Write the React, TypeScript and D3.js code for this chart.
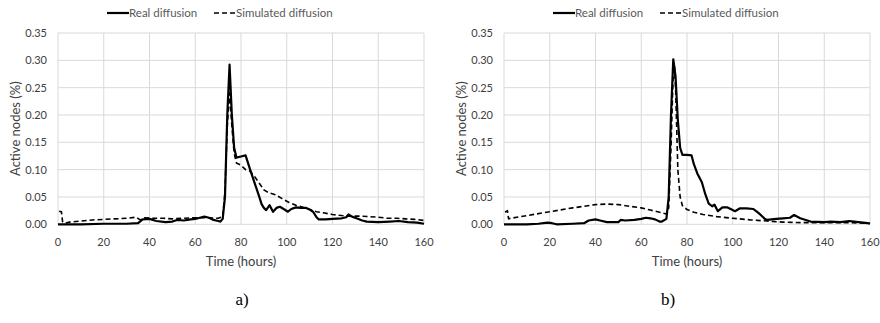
import { useEffect, useRef } from 'react';
import * as d3 from 'd3';

type Pt = [number, number];

const xTicks = [0, 20, 40, 60, 80, 100, 120, 140, 160];
const yTicks = [0, 0.05, 0.1, 0.15, 0.2, 0.25, 0.3, 0.35];
const seriesNames = ['Real diffusion', 'Simulated diffusion'];
const panelLabels = ['a)', 'b)'];

const realA: Pt[] = [
  [0, 0], [10, 0], [20, 0.001], [30, 0.001], [35, 0.002], [37, 0.009], [40, 0.01], [43, 0.006],
  [47, 0.004], [50, 0.005], [52, 0.008], [55, 0.007], [58, 0.009], [60, 0.01], [62, 0.012],
  [64, 0.014], [66, 0.012], [68, 0.008], [70, 0.006], [71, 0.005], [72, 0.01], [73, 0.05],
  [74, 0.2], [75, 0.292], [76, 0.2], [77, 0.14], [78, 0.122], [80, 0.124], [82, 0.126],
  [84, 0.1], [86, 0.075], [88, 0.05], [89, 0.037], [90, 0.03], [91, 0.026], [92.5, 0.035],
  [94, 0.023], [95.5, 0.03], [97, 0.032], [99, 0.027], [100.5, 0.023], [102, 0.028],
  [104, 0.031], [106, 0.03], [108.5, 0.03], [110, 0.027], [111.5, 0.023], [113, 0.013],
  [114, 0.009], [117, 0.009], [120, 0.01], [124, 0.011], [126, 0.013], [127, 0.018],
  [128.5, 0.014], [130.5, 0.011], [133, 0.007], [135, 0.005], [140, 0.004], [145, 0.005],
  [149, 0.006], [153, 0.004], [157, 0.003], [160, 0.001],
];

const simA: Pt[] = [
  [0.5, 0.024], [1.5, 0.023], [2, 0.005], [3, 0.002], [5, 0.004], [10, 0.006], [15, 0.008],
  [20, 0.009], [25, 0.01], [30, 0.011], [34, 0.013], [36, 0.008], [38, 0.012], [42, 0.011],
  [46, 0.011], [50, 0.01], [55, 0.011], [60, 0.012], [65, 0.012], [70, 0.011], [72, 0.014],
  [73, 0.06], [74, 0.18], [75, 0.24], [76, 0.18], [77, 0.13], [78, 0.112], [80, 0.108],
  [82, 0.1], [84, 0.097], [86, 0.087], [88, 0.075], [90, 0.063], [92, 0.058], [95, 0.054],
  [98, 0.047], [101, 0.04], [104, 0.035], [107, 0.031], [110, 0.027], [113, 0.023],
  [116, 0.021], [120, 0.018], [124, 0.016], [127, 0.015], [132, 0.015], [136, 0.014],
  [140, 0.013], [144, 0.011], [148, 0.011], [152, 0.01], [156, 0.009], [160, 0.007],
];

const realB: Pt[] = [
  [0, 0], [10, 0], [15, 0.001], [19, 0.003], [21, 0.002], [23, 0], [30, 0.001], [35, 0.002],
  [37, 0.007], [40, 0.009], [42, 0.007], [45, 0.004], [50, 0.004], [51, 0.008], [53, 0.007],
  [57, 0.008], [60, 0.01], [62, 0.012], [64, 0.011], [66, 0.009], [68, 0.005], [69, 0.005],
  [71, 0.01], [72, 0.05], [73, 0.2], [74, 0.302], [75, 0.27], [76, 0.19], [77, 0.14],
  [78, 0.127], [80, 0.127], [82, 0.126], [83, 0.11], [84.5, 0.093], [86.5, 0.077], [88, 0.055],
  [89.5, 0.038], [91, 0.033], [92, 0.036], [93.5, 0.024], [95.5, 0.031], [97.5, 0.031],
  [99.5, 0.027], [101, 0.024], [103, 0.029], [106, 0.029], [109, 0.028], [110.5, 0.023],
  [112, 0.018], [114, 0.01], [115, 0.008], [119, 0.01], [122, 0.011], [125, 0.012],
  [126.8, 0.017], [129.5, 0.011], [134, 0.005], [140, 0.004], [143, 0.005], [147, 0.004],
  [151, 0.006], [155, 0.004], [159, 0.002], [160, 0.001],
];

const simB: Pt[] = [
  [0.5, 0.022], [1.5, 0.025], [2, 0.01], [3, 0.011], [10, 0.016], [20, 0.023], [30, 0.03],
  [40, 0.036], [45, 0.037], [50, 0.036], [55, 0.033], [60, 0.03], [64, 0.026], [68, 0.022],
  [71, 0.019], [72, 0.03], [73, 0.14], [74, 0.28], [74.5, 0.29], [75, 0.25], [76, 0.1],
  [77, 0.05], [78, 0.034], [80, 0.027], [83, 0.022], [87, 0.018], [93, 0.014], [100, 0.011],
  [108, 0.008], [115, 0.006], [122, 0.004], [130, 0.003], [140, 0.003], [150, 0.003],
  [160, 0.002],
];

const panels = [
  { real: realA, sim: simA, left: 58, label: panelLabels[0], labelX: 242 },
  { real: realB, sim: simB, left: 504, label: panelLabels[1], labelX: 668 },
];

const FONT = 'Lato, "Open Sans", sans-serif';

export default function App() {
  const svgRef = useRef<SVGSVGElement>(null);

  useEffect(() => {
    if (!svgRef.current) return;
    const svg = d3.select(svgRef.current);
    svg.selectAll('*').remove();

    const plotW = 366;
    const top = 33;
    const bottom = 224.3;

    panels.forEach((p) => {
      const x = d3.scaleLinear().domain([0, 160]).range([p.left, p.left + plotW]);
      const y = d3.scaleLinear().domain([0, 0.35]).range([bottom, top]);
      const g = svg.append('g');

      // grid
      g.selectAll('.hg')
        .data(yTicks)
        .enter().append('line')
        .attr('x1', p.left).attr('x2', p.left + plotW)
        .attr('y1', d => y(d)).attr('y2', d => y(d))
        .attr('stroke', '#d9d9d9').attr('stroke-width', 1);
      g.selectAll('.vg')
        .data(xTicks)
        .enter().append('line')
        .attr('x1', d => x(d)).attr('x2', d => x(d))
        .attr('y1', top).attr('y2', bottom)
        .attr('stroke', '#d9d9d9').attr('stroke-width', 1);

      // tick labels
      g.selectAll('.yl')
        .data(yTicks)
        .enter().append('text')
        .attr('x', p.left - 11).attr('y', d => y(d) + 4)
        .attr('text-anchor', 'end')
        .attr('font-family', FONT).attr('font-size', '11px').attr('fill', '#404040')
        .text(d => d.toFixed(2));
      g.selectAll('.xl')
        .data(xTicks)
        .enter().append('text')
        .attr('x', d => x(d)).attr('y', bottom + 21.5)
        .attr('text-anchor', 'middle')
        .attr('font-family', FONT).attr('font-size', '11px').attr('fill', '#404040')
        .text(d => String(d));

      // axis titles
      g.append('text')
        .attr('transform', `translate(${p.left - 38.5},${(top + bottom) / 2}) rotate(-90)`)
        .attr('text-anchor', 'middle')
        .attr('font-family', FONT).attr('font-size', '13px').attr('fill', '#404040')
        .text('Active nodes (%)');
      g.append('text')
        .attr('x', x(80)).attr('y', bottom + 42)
        .attr('text-anchor', 'middle')
        .attr('font-family', FONT).attr('font-size', '13px').attr('fill', '#404040')
        .text('Time (hours)');

      const line = d3.line<Pt>().x(d => x(d[0])).y(d => y(d[1]));

      g.append('path')
        .datum(p.sim)
        .attr('fill', 'none').attr('stroke', '#000').attr('stroke-width', 1.6)
        .attr('stroke-dasharray', '5,3')
        .attr('stroke-linejoin', 'round')
        .attr('d', line);
      g.append('path')
        .datum(p.real)
        .attr('fill', 'none').attr('stroke', '#000').attr('stroke-width', 2.2)
        .attr('stroke-linejoin', 'round')
        .attr('d', line);

      // legend
      const lg = g.append('g').attr('transform', `translate(${p.left + 49},13)`);
      lg.append('line')
        .attr('x1', 0).attr('x2', 22).attr('y1', 0).attr('y2', 0)
        .attr('stroke', '#000').attr('stroke-width', 2.2);
      lg.append('text')
        .attr('x', 22).attr('y', 4)
        .attr('font-family', FONT).attr('font-size', '11.5px').attr('fill', '#595959')
        .text(seriesNames[0]);
      lg.append('line')
        .attr('x1', 107).attr('x2', 129).attr('y1', 0).attr('y2', 0)
        .attr('stroke', '#000').attr('stroke-width', 1.6).attr('stroke-dasharray', '5,3');
      lg.append('text')
        .attr('x', 129).attr('y', 4)
        .attr('font-family', FONT).attr('font-size', '11.5px').attr('fill', '#595959')
        .text(seriesNames[1]);

      // panel label
      svg.append('text')
        .attr('x', p.labelX).attr('y', 305)
        .attr('text-anchor', 'middle')
        .attr('font-family', '"Liberation Serif", "Times New Roman", serif')
        .attr('font-size', '17px').attr('fill', '#000')
        .text(p.label);
    });
  }, []);

  return (
    <svg
      ref={svgRef}
      width={880}
      height={323}
      style={{ position: 'absolute', left: 0, top: 0, background: '#fff' }}
    />
  );
}
